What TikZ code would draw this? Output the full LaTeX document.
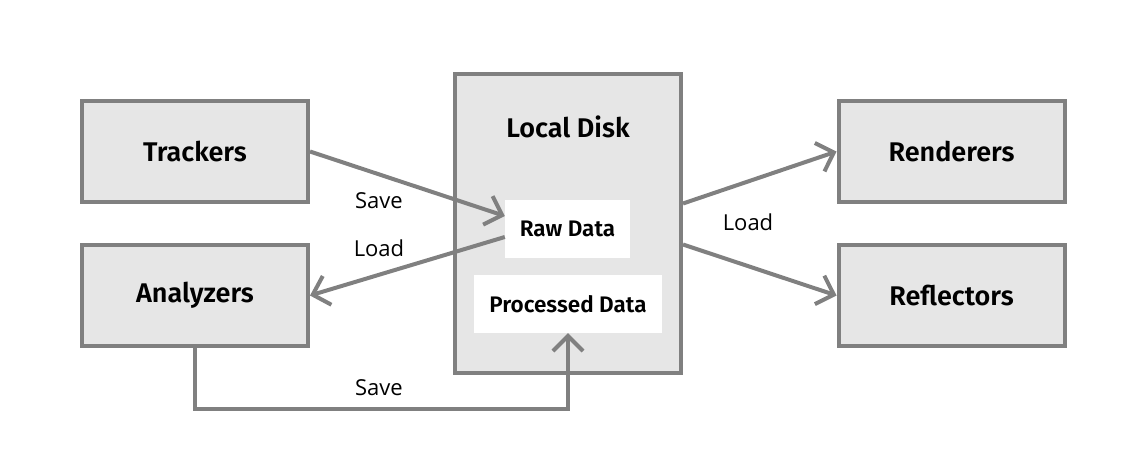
\documentclass[tikz,border=0pt]{standalone}
\usepackage{fontspec}
\setmainfont{Open Sans}
\newfontfamily\boldfam{Fira Sans}[BoldFont={Fira Sans SemiBold}]
\usetikzlibrary{arrows.meta}
\definecolor{edge}{HTML}{808080}
\definecolor{boxfill}{HTML}{E6E6E6}
\begin{document}
\begin{tikzpicture}[x=1pt,y=-1pt,
  box/.style={draw=edge, fill=boxfill, line width=4pt, minimum width=226pt, minimum height=101pt, inner sep=0pt, font=\boldfam\bfseries\fontsize{27}{30}\selectfont},
  inner/.style={fill=white, inner sep=0pt, font=\boldfam\bfseries\fontsize{22.5}{26}\selectfont},
  conn/.style={draw=edge, line width=4pt, -{Straight Barb[length=15pt,width=30pt,line width=4pt]}},
  lbl/.style={font=\fontsize{22}{25}\selectfont, inner sep=0pt}]
\useasboundingbox (0,0) rectangle (1146,469);
\node[box] (trk) at (195,151.5) {Trackers};
\node[box] (ana) at (195,295.5) {Analyzers};
\node[box] (ren) at (951.5,151.5) {Renderers};
\node[box] (ref) at (951.5,295.5) {Reflectors};
\node[box, minimum width=226pt, minimum height=299pt] (disk) at (568,223.5) {};
\node[font=\boldfam\bfseries\fontsize{27}{30}\selectfont] (dlbl) at (568,127) {Local Disk};
\node[inner, minimum width=125pt, minimum height=58pt] (raw) at (567.5,229) {Raw Data};
\node[inner, minimum width=188pt, minimum height=58pt] (proc) at (568,304) {Processed Data};
\coordinate (bend1) at (195,409);
\coordinate (bend2) at (568,409);
\draw[conn] (trk.east) -- ([yshift=13pt]raw.west);
\draw[conn] ([yshift=-8pt]raw.west) -- (ana.east);
\draw[conn] (ana.south) -- (bend1) -- (bend2) -- (proc.south);
\draw[conn] ([yshift=20pt]disk.east) -- (ren.west);
\draw[conn] ([yshift=-21pt]disk.east) -- (ref.west);
\node[lbl] (s1) at (379,201) {Save};
\node[lbl] (l1) at (379,248) {Load};
\node[lbl] (l2) at (748,222) {Load};
\node[lbl] (s2) at (379,388) {Save};
\end{tikzpicture}
\end{document}
